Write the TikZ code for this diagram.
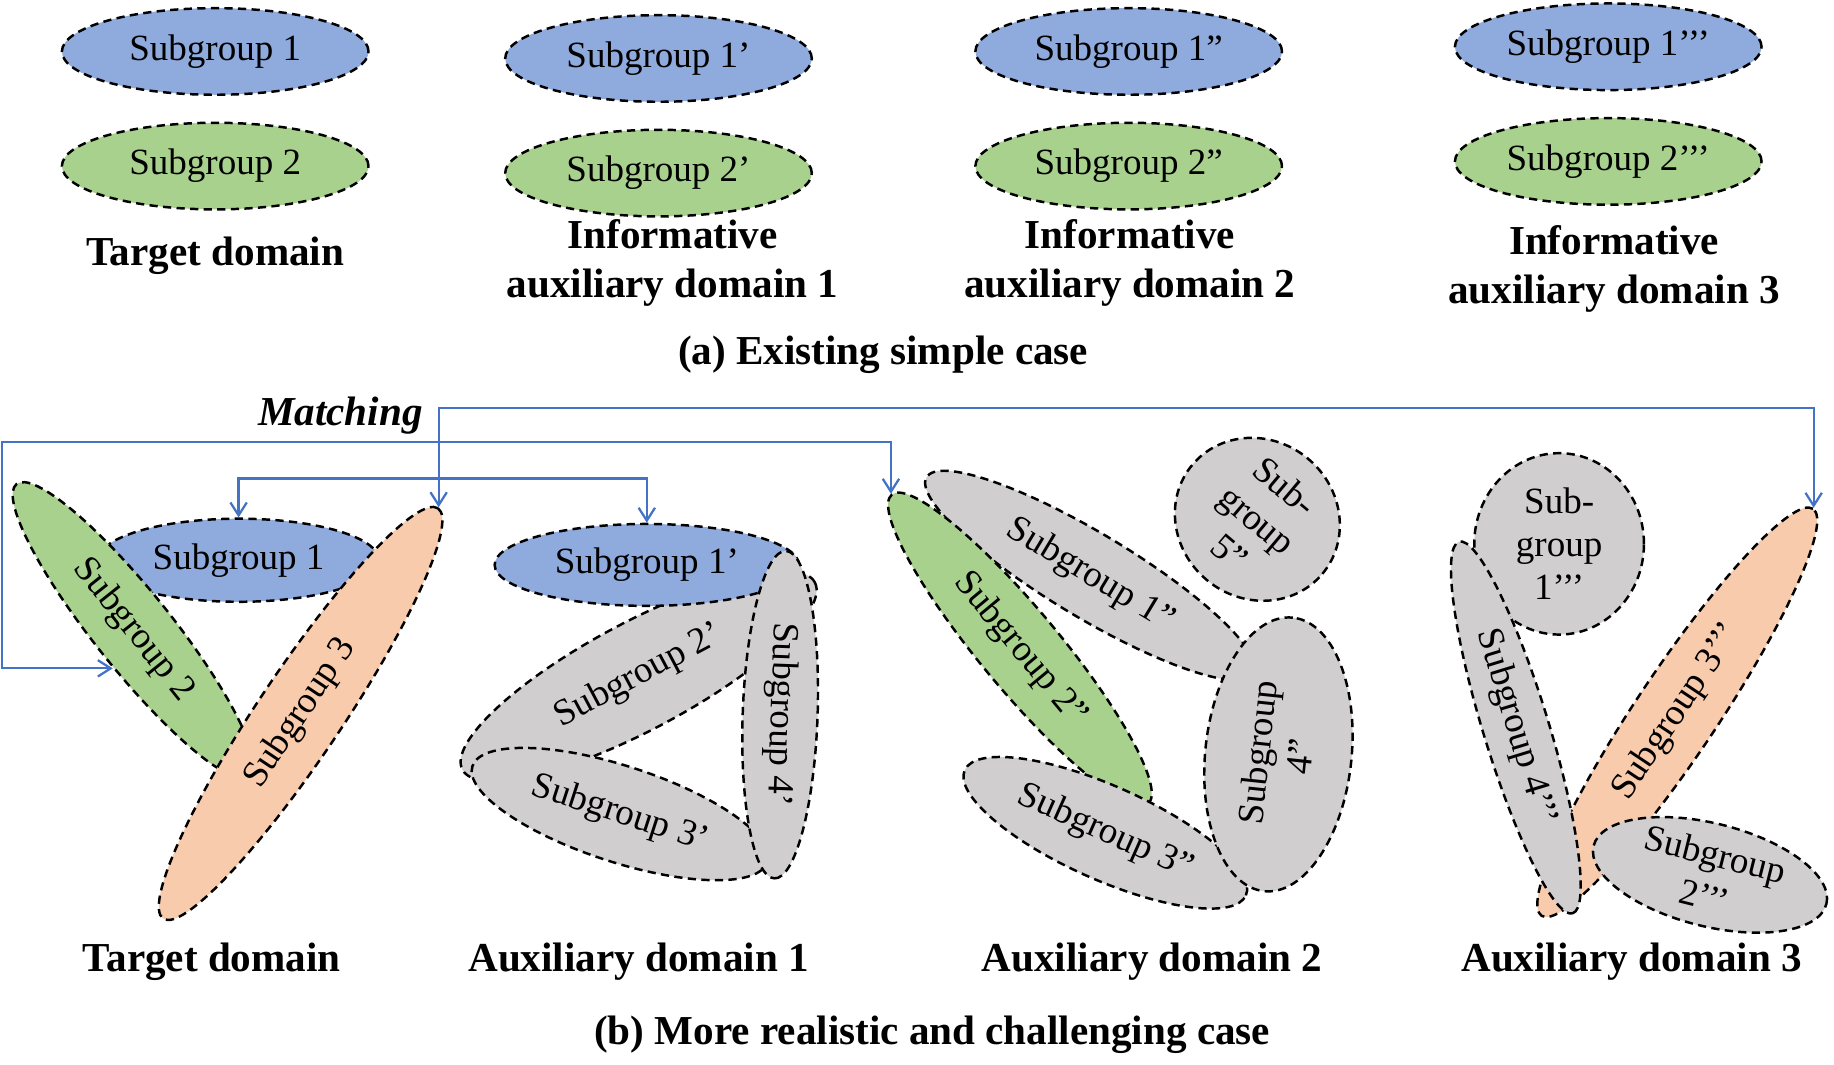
\documentclass[tikz,border=0pt]{standalone}
\usepackage{fontspec}
\setmainfont{Liberation Serif}
\usetikzlibrary{arrows.meta, shapes.geometric}

\definecolor{sgblue}{HTML}{8FAADC}
\definecolor{sggreen}{HTML}{A9D18E}
\definecolor{sgorange}{HTML}{F8CBAD}
\definecolor{sggray}{HTML}{D0CECE}
\definecolor{linkblue}{HTML}{4472C4}

\begin{document}
\begin{tikzpicture}[
  x=0.01cm, y=-0.01cm,
  >={Straight Barb[length=1.1mm, width=1.4mm]},
  grp/.style={ellipse, draw=black, dash pattern=on 2pt off 1.3pt, line width=0.6pt, inner sep=-4pt, align=center, font=\fontsize{9}{10.5}\selectfont},
  blu/.style={grp, fill=sgblue},
  grn/.style={grp, fill=sggreen},
  org/.style={grp, fill=sgorange},
  gry/.style={grp, fill=sggray},
  flat/.style={minimum width=2.62cm, minimum height=0.74cm},
  dom/.style={align=center, font=\fontsize{10}{12}\selectfont\bfseries},
  link/.style={<->, linkblue, line width=0.55pt}
]
\useasboundingbox (0,-3) rectangle (1568,907);

% (a) simple case
\foreach \c/\x/\y/\s in {a/184/41/{}, b/563/47/’, c/965/41/”, d/1375/37/’’’} {
    \node[blu, flat] (top1\c) at (\x,\y) {Subgroup 1\s};
    \node[grn, flat] (top2\c) at (\x,{\y+98}) {Subgroup 2\s};
}

\node[dom] (lta) at (184,216) {Target domain};
\node[dom] (ltb) at (575,222) {Informative\\auxiliary domain 1};
\node[dom] (ltc) at (966,222) {Informative\\auxiliary domain 2};
\node[dom] (ltd) at (1380,227) {Informative\\auxiliary domain 3};
\node[dom] (capa) at (755,300) {(a) Existing simple case};

% (b) target domain
\node[blu, minimum width=2.4cm, minimum height=0.71cm] (b1) at (204,476) {Subgroup 1};
\node[grn, minimum width=3.2cm, minimum height=0.66cm, rotate=-51.4] (b2) at (114,536) {Subgroup 2};
\node[org, minimum width=4.22cm, minimum height=0.72cm, rotate=56.2] (b3) at (257,607) {Subgroup 3};

% auxiliary domain 1
\node[gry, minimum width=3.41cm, minimum height=0.92cm, rotate=28] (c2) at (546,575) {Subgroup 2’};
\node[gry, minimum width=2.65cm, minimum height=0.82cm, rotate=-18] (c3) at (530,693) {Subgroup 3’};
\node[blu, minimum width=2.6cm, minimum height=0.7cm] (c1) at (553,480) {Subgroup 1’};
\node[gry, minimum width=2.8cm, minimum height=0.64cm, rotate=-92] (c4) at (667,608) {Subgroup 4’};

% auxiliary domain 2
\node[gry, minimum width=3.26cm, minimum height=0.72cm, rotate=-31] (d1) at (932,489) {Subgroup 1”};
\node[grn, minimum width=3.43cm, minimum height=0.68cm, rotate=-50.3] (d2) at (872,552) {Subgroup 2”};
\node[gry, minimum width=2.63cm, minimum height=0.8cm, rotate=-24] (d3) at (945,709) {Subgroup 3”};
\node[gry, minimum width=2.35cm, minimum height=1.25cm, rotate=84] (d4) at (1093,642) {Subgroup\\4”};
\node[gry, minimum width=1.45cm, minimum height=1.35cm, rotate=-40] (d5) at (1075,441) {Sub-\\group\\5”};

% auxiliary domain 3
\node[gry, minimum width=1.45cm, minimum height=1.55cm] (e1) at (1333,462) {Sub-\\group\\1’’’};
\node[org, minimum width=4.18cm, minimum height=0.7cm, rotate=56.3] (e3) at (1434,606) {Subgroup 3’’’};
\node[gry, minimum width=3.32cm, minimum height=0.56cm, rotate=-73] (e4) at (1296,619) {Subgroup 4’’’};
\node[gry, minimum width=2.05cm, minimum height=0.88cm, rotate=-14] (e2) at (1462,745) {Subgroup\\2’’’};

% labels
\node[dom] (lba) at (181,819) {Target domain};
\node[dom] (lbb) at (546,819) {Auxiliary domain 1};
\node[dom] (lbc) at (985,819) {Auxiliary domain 2};
\node[dom] (lbd) at (1395,819) {Auxiliary domain 3};
\node[dom] (capb) at (797,882) {(b) More realistic and challenging case};
\node[dom, font=\fontsize{10}{12}\selectfont\bfseries\itshape] (match) at (291,352) {Matching};

% matching links
\coordinate (ya) at (0,346);
\coordinate (yb) at (1.5,375);
\coordinate (yc) at (0,406);
\draw[link] (b3.east) -- (b3.east |- ya) -| (e3.east);
\draw[link] (b2.-67) -| (yb) -| (d2.west);
\draw[link] (b1.north) -- (b1.north |- yc) -| (c1.north);

\end{tikzpicture}
\end{document}
